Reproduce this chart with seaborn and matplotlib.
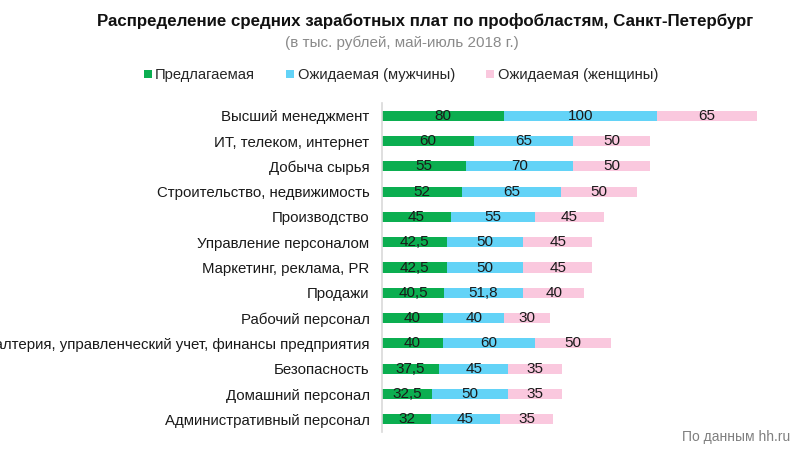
import numpy as np
import pandas as pd
import seaborn as sns
import matplotlib.pyplot as plt
from matplotlib.lines import Line2D

categories = [
    'Высший менеджмент',
    'ИТ, телеком, интернет',
    'Добыча сырья',
    'Строительство, недвижимость',
    'Производство',
    'Управление персоналом',
    'Маркетинг, реклама, PR',
    'Продажи',
    'Рабочий персонал',
    'Бухгалтерия, управленческий учет, финансы предприятия',
    'Безопасность',
    'Домашний персонал',
    'Административный персонал',
]
offered = [80, 60, 55, 52, 45, 42.5, 42.5, 40.5, 40, 40, 37.5, 32.5, 32]
expected_men = [100, 65, 70, 65, 55, 50, 50, 51.8, 40, 60, 45, 50, 45]
expected_women = [65, 50, 50, 50, 45, 45, 45, 40, 30, 50, 35, 35, 35]

series_names = ['Предлагаемая', 'Ожидаемая (мужчины)', 'Ожидаемая (женщины)']
colors = ['#0BAE50', '#63D3F7', '#FAC8DE']

sns.set_theme(style='white')
plt.rcParams['font.family'] = ['Liberation Sans', 'DejaVu Sans']

df = pd.DataFrame({'cat': categories, 'a': offered, 'b': expected_men, 'c': expected_women})
df['ab'] = df['a'] + df['b']
df['abc'] = df['ab'] + df['c']

fig = plt.figure(figsize=(8, 4.5), dpi=100)
ax = fig.add_axes([0.4775, 0.04, 0.50, 0.731])

# stacked look: draw cumulative totals, longest first
for col, color in zip(['abc', 'ab', 'a'], colors[::-1]):
    sns.barplot(data=df, y='cat', x=col, order=categories, orient='h',
                color=color, width=0.4, linewidth=0, saturation=1, ax=ax)

def fmt(v):
    return ('%g' % v).replace('.', ',')

for i, row in df.iterrows():
    lefts = [0, row['a'], row['ab']]
    vals = [row['a'], row['b'], row['c']]
    for left, v in zip(lefts, vals):
        ax.text(left + v / 2, i, fmt(v), ha='center', va='center',
                fontsize=11, color='#1a1a1a')

ax.set_xlim(0, 261.5)
ax.set_ylim(12.5, -0.5)
ax.set_xlabel('')
ax.set_ylabel('')
ax.set_xticks([])
ax.tick_params(axis='y', length=0, pad=9, labelsize=10.8, labelcolor='#1a1a1a')
for s in ['top', 'right', 'bottom']:
    ax.spines[s].set_visible(False)
ax.spines['left'].set_color('#D9D9D9')
ax.spines['left'].set_linewidth(1.2)

fig.text(0.531, 0.953, 'Распределение средних заработных плат по профобластям, Санкт-Петербург',
         ha='center', va='center', fontsize=12.2, fontweight='bold', color='#111111')
fig.text(0.502, 0.905, '(в тыс. рублей, май-июль 2018 г.)', ha='center', va='center',
         fontsize=11, color='#8a8a8a')
fig.text(0.988, 0.03, 'По данным hh.ru', ha='right', va='center', fontsize=10, color='#7f7f7f')

handles = [Line2D([0], [0], marker='s', linestyle='', markersize=6,
                  markerfacecolor=c, markeredgewidth=0) for c in colors]
fig.legend(handles, series_names, loc='center', bbox_to_anchor=(0.5, 0.833), ncol=3,
           frameon=False, fontsize=10.6, handletextpad=0.1, columnspacing=2.0,
           handlelength=0.8)

fig.savefig('out.png', dpi=100)
